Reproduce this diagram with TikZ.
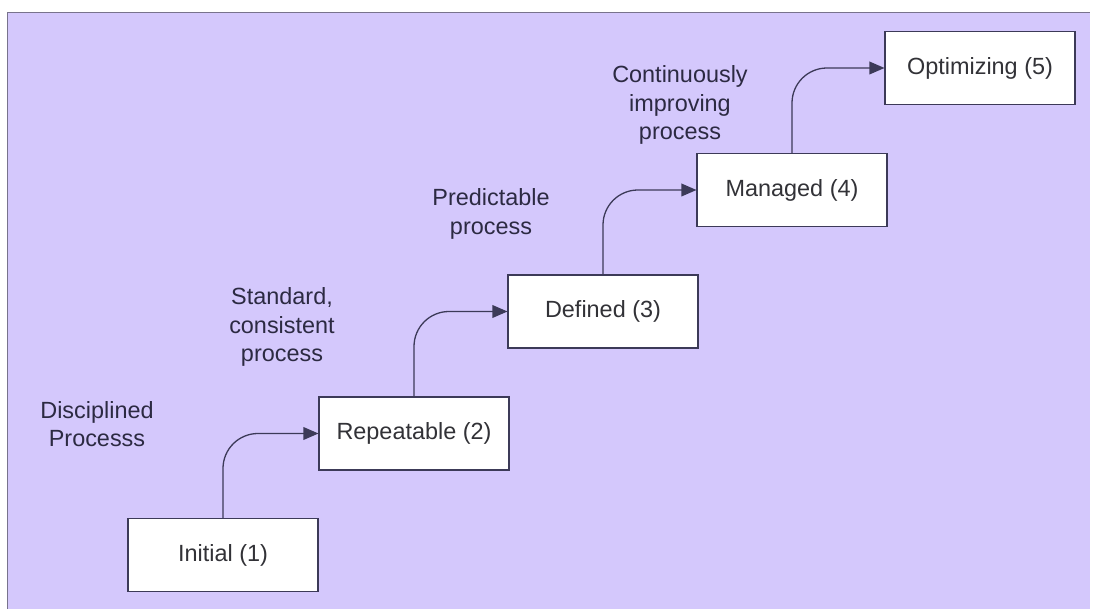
\documentclass[tikz,border=0pt]{standalone}
\usepackage{fontspec}
\setmainfont{Liberation Sans}
\usepackage{xcolor}
\usepackage{tikz}
\usetikzlibrary{arrows.meta}

\definecolor{panel}{RGB}{212,200,252}
\definecolor{panelline}{RGB}{120,115,140}
\definecolor{linecol}{RGB}{60,58,88}
\definecolor{labelcol}{RGB}{44,42,66}
\definecolor{boxtext}{RGB}{50,50,55}

\tikzset{
  level/.style={draw=linecol, line width=0.9pt, fill=white, text=boxtext,
    minimum width=5.7cm, minimum height=2.19cm, inner sep=0pt},
  phase/.style={text=labelcol, align=center},
  flow/.style={draw=linecol, line width=1.1pt, rounded corners=1.05cm,
    -{Triangle[length=0.45cm,width=0.38cm]}}
}

\begin{document}
\begin{tikzpicture}[x=0.03cm,y=0.03cm,font=\fontsize{20}{24}\selectfont]
\useasboundingbox (0,0) rectangle (1093,611);
\fill[panel] (7,2) rectangle (1090,599);
\draw[panelline, line width=0.8pt] (7,2) -- (7,599) -- (1090,599);

\node[level] (ini) at (223,56) {Initial (1)};
\node[level] (rep) at (414,177.5) {Repeatable (2)};
\node[level] (def) at (603,299.5) {Defined (3)};
\node[level] (man) at (792,421) {Managed (4)};
\node[level] (opt) at (980,543) {Optimizing (5)};

\node[phase] (disc) at (97,187) {Disciplined\\Processs};
\node[phase] (std) at (282,284) {Standard,\\consistent\\process};
\node[phase] (pred) at (491,397) {Predictable\\process};
\node[phase] (cont) at (680,506) {Continuously\\improving\\process};

\draw[flow] (ini.north) |- (rep.west);
\draw[flow] (rep.north) |- (def.west);
\draw[flow] (def.north) |- (man.west);
\draw[flow] (man.north) |- (opt.west);

\end{tikzpicture}
\end{document}
